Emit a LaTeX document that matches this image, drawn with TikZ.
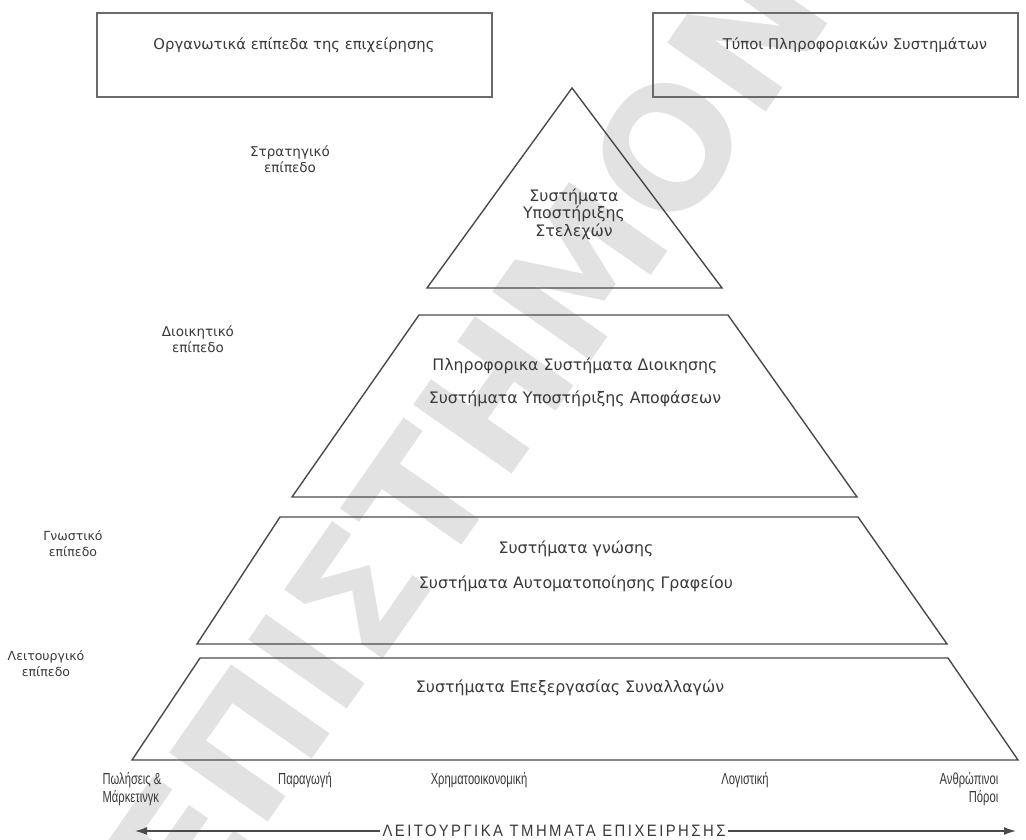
\documentclass[tikz,border=0pt]{standalone}
\usepackage{fontspec}
\setmainfont{DejaVu Sans}
\newfontfamily\narrowfont[FakeStretch=0.7]{Liberation Sans}
\newfontfamily\capsfont[FakeStretch=0.9, LetterSpace=15]{Liberation Sans}
\usetikzlibrary{arrows.meta}
\definecolor{ink}{HTML}{3A3A3A}
\definecolor{edge}{HTML}{4A4A4A}
\definecolor{boxedge}{HTML}{6A6A6A}
\definecolor{wm}{HTML}{E2E2E2}
\begin{document}
\begin{tikzpicture}[x=1pt,y=-1pt,
  level/.style={draw=edge, line width=1.4pt, line join=miter},
  hdrbox/.style={draw=boxedge, line width=1.8pt, inner sep=0pt, minimum height=84pt},
  lbl/.style={text=ink, font=\fontsize{13.5}{16}\selectfont, align=center, inner sep=0pt},
  sys/.style={text=ink, font=\fontsize{15.8}{17.5}\selectfont, align=center, inner sep=0pt},
  dept/.style={text=ink, font=\narrowfont\fontsize{16}{17.5}\selectfont, inner sep=0pt},
  tip/.style={-{Latex[length=12pt,width=8pt]}, draw=edge, line width=1.4pt},
]
\useasboundingbox (0,0) rectangle (1026,839);
\clip (0,0) rectangle (1026,839);
\fill[white] (0,0) rectangle (1026,839);

% watermark
\node[text=wm, font=\bfseries\fontsize{165}{165}\selectfont, rotate=55, anchor=base west, inner sep=0pt] (wmark) at (195,927) {ΕΠΙΣΤΗΜΟΝΙΚΟ};

% header boxes
\node[hdrbox, minimum width=395pt] (orgbox) at (294.5,55) {};
\node[lbl, font=\fontsize{14.8}{17}\selectfont] (orgtxt) at (294,45) {Οργανωτικά επίπεδα της επιχείρησης};
\node[hdrbox, minimum width=365pt] (typbox) at (835.5,55) {};
\node[lbl, font=\fontsize{14.8}{17}\selectfont] (typtxt) at (855,45) {Τύποι Πληροφοριακών Συστημάτων};

% pyramid levels
\draw[level] (427,288) -- (572,88) -- (722,288) -- cycle;
\draw[level] (292,497) -- (419,315) -- (728,315) -- (857,497) -- cycle;
\draw[level] (197,644) -- (280,517) -- (858,517) -- (947,644) -- cycle;
\draw[level] (132,760) -- (200,658) -- (948,658) -- (1018,760) -- cycle;

% organisational levels
\node[lbl] (strat) at (290,159) {Στρατηγικό\\επίπεδο};
\node[lbl] (dioik) at (198,339) {Διοικητικό\\επίπεδο};
\node[lbl, font=\fontsize{12.5}{16}\selectfont] (gnost) at (73,544) {Γνωστικό\\επίπεδο};
\node[lbl, font=\fontsize{12.5}{16}\selectfont] (leit) at (46,664) {Λειτουργικό\\επίπεδο};

% system types
\node[sys] (ess) at (574,214) {Συστήματα\\Υποστήριξης\\Στελεχών};
\node[sys] (mis) at (575,366) {Πληροφορικα Συστήματα Διοικησης};
\node[sys] (dss) at (575,399) {Συστήματα Υποστήριξης Αποφάσεων};
\node[sys] (kws) at (576,549) {Συστήματα γνώσης};
\node[sys] (oas) at (576,584) {Συστήματα Αυτοματοποίησης Γραφείου};
\node[sys] (tps) at (570,688) {Συστήματα Επεξεργασίας Συναλλαγών};

% departments
\node[dept, align=left] (sales) at (132,789) {Πωλήσεις \&\\Μάρκετινγκ};
\node[dept] (prod) at (305,780) {Παραγωγή};
\node[dept] (fin) at (479,780) {Χρηματοοικονομική};
\node[dept] (acc) at (745,780) {Λογιστική};
\node[dept, align=right] (hr) at (969,789) {Ανθρώπινοι\\Πόροι};

% functional departments arrow
\node[dept, font=\capsfont\fontsize{16.5}{17}\selectfont, fill=white, inner xsep=2pt] (func) at (554,831) {ΛΕΙΤΟΥΡΓΙΚΑ ΤΜΗΜΑΤΑ ΕΠΙΧΕΙΡΗΣΗΣ};
\coordinate (arrL) at (135,831);
\coordinate (arrR) at (1016,831);
\draw[tip] (func.west) -- (arrL);
\draw[tip] (func.east) -- (arrR);
\end{tikzpicture}
\end{document}
